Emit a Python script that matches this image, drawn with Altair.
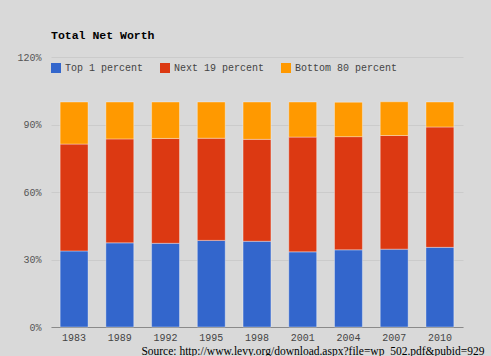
import altair as alt
import pandas as pd

years = ["1983", "1989", "1992", "1995", "1998", "2001", "2004", "2007", "2010"]
groups = ["Top 1 percent", "Next 19 percent", "Bottom 80 percent"]
top1 = [33.8, 37.4, 37.2, 38.5, 38.1, 33.4, 34.3, 34.6, 35.4]
next19 = [47.5, 46.2, 46.6, 45.4, 45.3, 51.0, 50.3, 50.5, 53.5]
bottom80 = [18.7, 16.4, 16.2, 16.1, 16.6, 15.6, 15.3, 15.0, 11.1]
colors = ["#3366cc", "#dc3912", "#ff9900"]
y_ticks = [0, 30, 60, 90, 120]
source = "Source: http://www.levy.org/download.aspx?file=wp_502.pdf&pubid=929"

rows = []
for series, name in zip([top1, next19, bottom80], groups):
    for yr, v in zip(years, series):
        rows.append({"year": yr, "group": name, "value": v, "rank": groups.index(name)})
df = pd.DataFrame(rows)

mono = "Liberation Mono"

chart = alt.Chart(df).mark_bar(stroke="white", strokeOpacity=0.35, strokeWidth=1).encode(
    x=alt.X("year:N", sort=years,
            scale=alt.Scale(paddingInner=0.39, paddingOuter=0.2),
            axis=alt.Axis(title=source, titleFont="Liberation Serif", titleFontSize=11.5,
                          titleFontWeight="normal", titleColor="#000000",
                          titleX=433, titleY=27, titleAlign="right", titleBaseline="alphabetic",
                          labelFont=mono, labelFontSize=10, labelColor="#444444",
                          labelPadding=5, ticks=False, domainColor="#8a8a8a",
                          labelAngle=0, grid=False)),
    y=alt.Y("value:Q", stack="zero",
            scale=alt.Scale(domain=[0, 120], nice=False),
            axis=alt.Axis(title=None, values=y_ticks, labelExpr="datum.value + '%'",
                          labelFont=mono, labelFontSize=10, labelColor="#555555",
                          labelPadding=10, ticks=False, domain=False,
                          gridColor="#cbcbcb", gridWidth=1)),
    color=alt.Color("group:N", sort=groups,
                    scale=alt.Scale(domain=groups, range=colors),
                    legend=alt.Legend(title=None, orient="none", legendX=0, legendY=6,
                                      direction="horizontal", symbolType="square",
                                      symbolSize=100, symbolStrokeWidth=0,
                                      labelFont=mono, labelFontSize=10, labelColor="#444444",
                                      labelOffset=4, columnPadding=16, padding=0)),
    order=alt.Order("rank:Q", sort="ascending"),
).properties(
    width=412,
    height=270,
    autosize=alt.AutoSizeParams(type="none"),
    padding={"left": 51, "top": 57, "right": 28, "bottom": 29},
    background="#d9d9d9",
    title=alt.TitleParams("Total Net Worth", anchor="start", frame="group", font=mono,
                          fontSize=11.5, fontWeight="bold", color="#000000", offset=11),
).configure_view(stroke=None)

chart.save("out.html", embed_options={"renderer": "svg", "actions": False})
